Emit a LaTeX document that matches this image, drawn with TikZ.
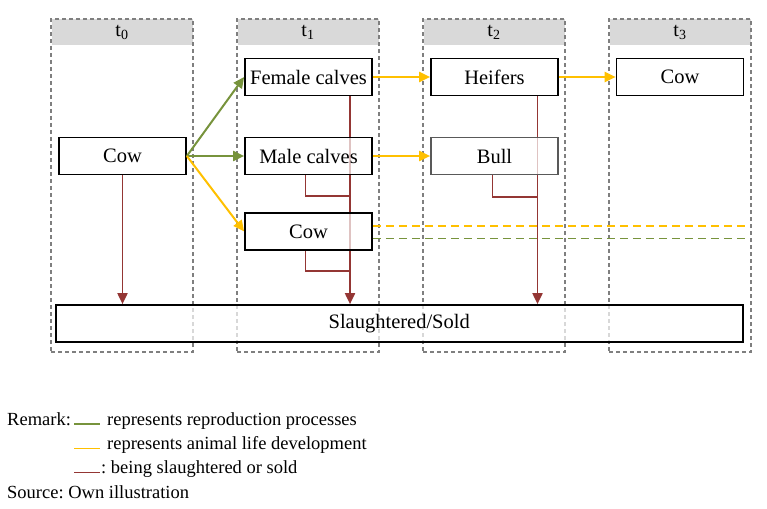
\documentclass[tikz,border=0pt]{standalone}
\usepackage{fontspec}
\setmainfont{Liberation Serif}
\frenchspacing
\usetikzlibrary{arrows.meta,backgrounds}
\definecolor{cgreen}{HTML}{77933C}
\definecolor{cyellow}{HTML}{FFC000}
\definecolor{cred}{HTML}{943634}
\definecolor{cdash}{HTML}{7F7F7F}
\definecolor{chdr}{HTML}{D9D9D9}
\begin{document}
\begin{tikzpicture}[x=1pt,y=-1pt,
  box/.style={draw=black,line width=1.7pt,fill=white,fill opacity=0.7,text opacity=1,draw opacity=1,minimum width=127pt,minimum height=37pt,inner sep=0pt,font=\fontsize{20.5}{23}\selectfont},
  colbox/.style={draw=cdash,line width=1.3pt,dash pattern=on 4pt off 3pt,minimum width=142pt,minimum height=333pt,inner sep=0pt},
  hdr/.style={fill=chdr,minimum width=141pt,minimum height=26pt,inner sep=0pt,font=\fontsize{20}{22}\selectfont},
  tipa/.style={-{Triangle[length=11pt,width=10pt]}},
  grn/.style={draw=cgreen,line width=2pt,tipa},
  yel/.style={draw=cyellow,line width=2pt,tipa},
  rd/.style={draw=cred,line width=1.9pt},
  leg/.style={anchor=base west,inner sep=0pt,font=\fontsize{18.5}{21}\selectfont}
]
\useasboundingbox (0,0) rectangle (767,508);
% boxes
\node[box] (cow0) at (122.5,156) {Cow};
\node[box] (fem) at (308.5,77) {Female calves};
\node[box] (male) at (308.5,156) {Male calves};
\node[box] (cow1) at (308.5,231.5) {Cow};
\node[box] (heif) at (494.5,77) {Heifers};
\node[box,draw=black!65] (bull) at (494.5,156) {Bull};
\node[box] (cow3) at (680,77) {Cow};
\node[box,minimum width=687pt] (sold) at (399.2,323.5) {Slaughtered/Sold};
\begin{pgfonlayer}{background}
% columns
\foreach \n/\x/\s in {c0/122/0,c1/308/1,c2/494/2,c3/680/3}{
  \node[hdr] (h\s) at (\x,32) {t\textsubscript{\s}};
  \node[colbox] (\n) at (\x,185.5) {};
}
% slaughter lines
\draw[rd,tipa] (cow0.south) -- (cow0.south |- sold.north);
\coordinate (f1) at ([xshift=41.5pt]fem.south);
\draw[rd,tipa] (f1) -- (f1 |- sold.north);
\coordinate (m1) at ([xshift=-3pt]male.south);
\draw[rd] (m1) -- ++(0,21) -| (f1);
\coordinate (k1) at ([xshift=-3pt]cow1.south);
\draw[rd] (k1) -- ++(0,20) -| (f1);
\coordinate (h1) at ([xshift=43pt]heif.south);
\draw[rd,tipa] (h1) -- (h1 |- sold.north);
\coordinate (b1) at ([xshift=-2pt]bull.south);
\draw[rd] (b1) -- ++(0,21.5) -| (h1);
\end{pgfonlayer}
% reproduction / development
\draw[grn] (cow0.east) -- (fem.west);
\draw[grn] (cow0.east) -- (male.west);
\draw[yel] (cow0.east) -- (cow1.west);
\draw[yel] (fem.east) -- (heif.west);
\draw[yel] (male.east) -- (bull.west);
\draw[yel] (heif.east) -- (cow3.west);
\coordinate (ye) at (747,226);
\coordinate (ge) at (747,238.5);
\draw[cyellow,line width=1.9pt,dash pattern=on 8pt off 5pt] (cow1.east |- ye) -- (ye);
\draw[cgreen,line width=1.9pt,dash pattern=on 8pt off 5pt] (cow1.east |- ge) -- (ge);
% legend
\node[leg] (rem) at (7,425) {Remark:};
\coordinate (l1a) at (74,424); \coordinate (l1b) at (100,424);
\draw[cgreen,line width=1.9pt] (l1a) -- (l1b);
\node[leg] (t1) at (107,425) {represents reproduction processes};
\coordinate (l2a) at (74,448.5); \coordinate (l2b) at (100,448.5);
\draw[cyellow,line width=1.9pt] (l2a) -- (l2b);
\node[leg] (t2) at (107,449.5) {represents animal life development};
\coordinate (l3a) at (74,472.5); \coordinate (l3b) at (100,472.5);
\draw[cred,line width=1.9pt] (l3a) -- (l3b);
\node[leg] (t3) at (101,473.5) {: being slaughtered or sold};
\node[leg] (src) at (7,498) {Source: Own illustration};
\end{tikzpicture}
\end{document}
